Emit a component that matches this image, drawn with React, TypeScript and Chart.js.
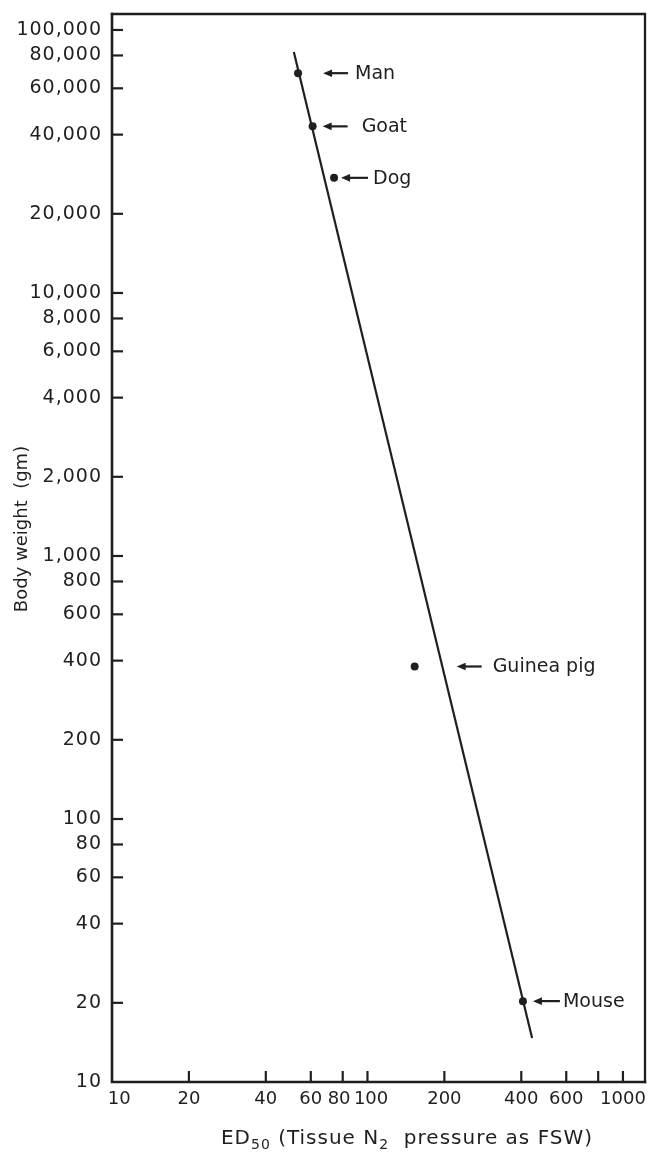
import React, { useEffect, useRef } from "react";
import { Chart, registerables } from "chart.js";

Chart.register(...registerables);

// ---- data ----
const species = ["Man", "Goat", "Dog", "Guinea pig", "Mouse"];
const ed50 = [53.5, 61, 74, 153, 406];
const bodyWeight = [68500, 43000, 27400, 380, 20.3];
const fitLineX = [51.5, 441];
const fitLineY = [82500, 14.7];

const xTicks = [10, 20, 40, 60, 80, 100, 200, 400, 600, 800, 1000];
const xTickLabels = ["10", "20", "40", "60", "80", "100", "200", "400", "600", "", "1000"];
const yTicks = [10, 20, 40, 60, 80, 100, 200, 400, 600, 800, 1000, 2000, 4000, 6000, 8000, 10000, 20000, 40000, 60000, 80000, 100000];
const yTickLabels = ["10", "20", "40", "60", "80", "100", "200", "400", "600", "800", "1,000", "2,000", "4,000", "6,000", "8,000", "10,000", "20,000", "40,000", "60,000", "80,000", "100,000"];

const xRange = [10, 1220];
const yRange = [10, 115000];

// ---- layout / style (not data) ----
const INK = "#1f1f1f";
const FONT = "'DejaVu Sans', sans-serif";
// callout arrow: tip offset from point, arrow length, gap to text
const calloutTipDx = [25, 10, 7, 42, 10];
const calloutLen = [25, 25, 27, 25, 27];
const calloutTextGap = [7, 14, 5, 11, 3];
// small label nudges (thin spaces) so crowded x labels separate like the original
const xLabelPad: Record<string, [number, number]> = { "10": [4, 0], "80": [0, 2], "100": [2, 0] };

const spacingPlugin = {
  id: "ySpacing",
  beforeDraw(chart: any) {
    const s = chart.scales.y;
    if (s && !s._lsPatched) {
      const orig = s.drawLabels;
      s.drawLabels = function (area: any) {
        const c = this.ctx;
        c.save();
        c.letterSpacing = "1px";
        orig.call(this, area);
        c.restore();
      };
      s._lsPatched = true;
    }
  },
};

const framePlugin = {
  id: "frameAndAnnotations",
  afterDraw(chart: any) {
    const { ctx, chartArea } = chart;
    const { left, right, top, bottom } = chartArea;
    const xs = chart.scales.x;
    const ys = chart.scales.y;
    ctx.save();
    ctx.strokeStyle = INK;
    ctx.lineCap = "square";
    // frame
    ctx.lineWidth = 2.6;
    ctx.beginPath();
    ctx.moveTo(left, top);
    ctx.lineTo(left, bottom);
    ctx.lineTo(right, bottom);
    ctx.stroke();
    ctx.lineWidth = 2.3;
    ctx.beginPath();
    ctx.moveTo(left, top);
    ctx.lineTo(right, top);
    ctx.lineTo(right, bottom);
    ctx.stroke();
    // inward tick marks
    ctx.lineWidth = 2.2;
    ctx.lineCap = "butt";
    ys.ticks.forEach((t: any) => {
      if (t.value <= yRange[0]) return;
      const py = ys.getPixelForValue(t.value);
      ctx.beginPath();
      ctx.moveTo(left, py);
      ctx.lineTo(left + 11, py);
      ctx.stroke();
    });
    xs.ticks.forEach((t: any) => {
      if (t.value <= xRange[0]) return;
      const px = xs.getPixelForValue(t.value);
      ctx.beginPath();
      ctx.moveTo(px, bottom);
      ctx.lineTo(px, bottom - 11);
      ctx.stroke();
    });
    // callouts
    ctx.fillStyle = INK;
    ctx.font = `19px ${FONT}`;
    ctx.textBaseline = "middle";
    ctx.textAlign = "left";
    species.forEach((name, i) => {
      const px = xs.getPixelForValue(ed50[i]);
      const py = ys.getPixelForValue(bodyWeight[i]);
      const tip = px + calloutTipDx[i];
      const end = tip + calloutLen[i];
      ctx.lineWidth = 2.2;
      ctx.beginPath();
      ctx.moveTo(tip + 6, py);
      ctx.lineTo(end, py);
      ctx.stroke();
      ctx.beginPath();
      ctx.moveTo(tip, py);
      ctx.lineTo(tip + 9, py - 3.8);
      ctx.lineTo(tip + 9, py + 3.8);
      ctx.closePath();
      ctx.fill();
      ctx.fillText(name, end + calloutTextGap[i], py + 1);
    });
    // y title
    ctx.save();
    ctx.font = `18px ${FONT}`;
    ctx.textAlign = "center";
    ctx.translate(22, 529);
    ctx.rotate(-Math.PI / 2);
    ctx.fillText("Body weight  (gm)", 0, 0);
    ctx.restore();
    // x title with subscripts
    const segs = [
      { t: "ED", sub: false },
      { t: "50", sub: true },
      { t: " (Tissue N", sub: false },
      { t: "2", sub: true },
      { t: "  pressure as FSW)", sub: false },
    ];
    const mainFont = `20px ${FONT}`;
    const subFont = `14px ${FONT}`;
    ctx.letterSpacing = "1px";
    let total = 0;
    segs.forEach((s) => {
      ctx.font = s.sub ? subFont : mainFont;
      total += ctx.measureText(s.t).width;
    });
    let cx = 407 - total / 2;
    const ty = 1139;
    ctx.textAlign = "left";
    segs.forEach((s) => {
      ctx.font = s.sub ? subFont : mainFont;
      ctx.fillText(s.t, cx, s.sub ? ty + 6 : ty);
      cx += ctx.measureText(s.t).width;
    });
    ctx.restore();
  },
};

export default function App() {
  const canvasRef = useRef<HTMLCanvasElement | null>(null);

  useEffect(() => {
    if (!canvasRef.current) return;
    const chart = new Chart(canvasRef.current, {
      type: "scatter",
      data: {
        datasets: [
          {
            label: "Species",
            data: ed50.map((x, i) => ({ x, y: bodyWeight[i] })),
            pointRadius: 4,
            pointBackgroundColor: INK,
            pointBorderWidth: 0,
            showLine: false,
          },
          {
            label: "Fit",
            data: fitLineX.map((x, i) => ({ x, y: fitLineY[i] })),
            showLine: true,
            pointRadius: 0,
            borderColor: INK,
            borderWidth: 2.2,
          },
        ],
      },
      options: {
        responsive: false,
        animation: false,
        devicePixelRatio: 1,
        layout: { padding: { top: 14, right: 9, left: 0, bottom: 0 } },
        plugins: { legend: { display: false }, tooltip: { enabled: false } },
        scales: {
          x: {
            type: "logarithmic",
            min: xRange[0],
            max: xRange[1],
            grid: { display: false, drawTicks: false },
            border: { display: false },
            afterBuildTicks: (scale: any) => {
              scale.ticks = xTicks.map((v) => ({ value: v }));
            },
            afterFit: (scale: any) => {
              scale.height = 78;
              scale.paddingLeft = 0;
              scale.paddingRight = 0;
            },
            ticks: {
              autoSkip: false,
              maxRotation: 0,
              minRotation: 0,
              padding: 7,
              color: INK,
              font: { family: FONT, size: 18 },
              callback: (value: any) => {
                const idx = xTicks.indexOf(Number(value));
                if (idx < 0) return "";
                const lab = xTickLabels[idx];
                const pad = xLabelPad[lab];
                if (!pad) return lab;
                return "\u2009".repeat(pad[0]) + lab + "\u2009".repeat(pad[1]);
              },
            },
          },
          y: {
            type: "logarithmic",
            min: yRange[0],
            max: yRange[1],
            grid: { display: false, drawTicks: false },
            border: { display: false },
            afterBuildTicks: (scale: any) => {
              scale.ticks = yTicks.map((v) => ({ value: v }));
            },
            afterFit: (scale: any) => {
              scale.width = 112;
              scale.paddingTop = 0;
              scale.paddingBottom = 0;
            },
            ticks: {
              autoSkip: false,
              padding: 10,
              color: INK,
              font: { family: FONT, size: 19 },
              callback: (value: any) => {
                const idx = yTicks.indexOf(Number(value));
                return idx >= 0 ? yTickLabels[idx] : "";
              },
            },
          },
        },
      },
      plugins: [spacingPlugin, framePlugin],
    } as any);
    return () => chart.destroy();
  }, []);

  return (
    <div style={{ position: "absolute", left: 0, top: 0, width: 654, height: 1160, background: "#fff" }}>
      <canvas ref={canvasRef} width={654} height={1160} style={{ display: "block" }} />
    </div>
  );
}
